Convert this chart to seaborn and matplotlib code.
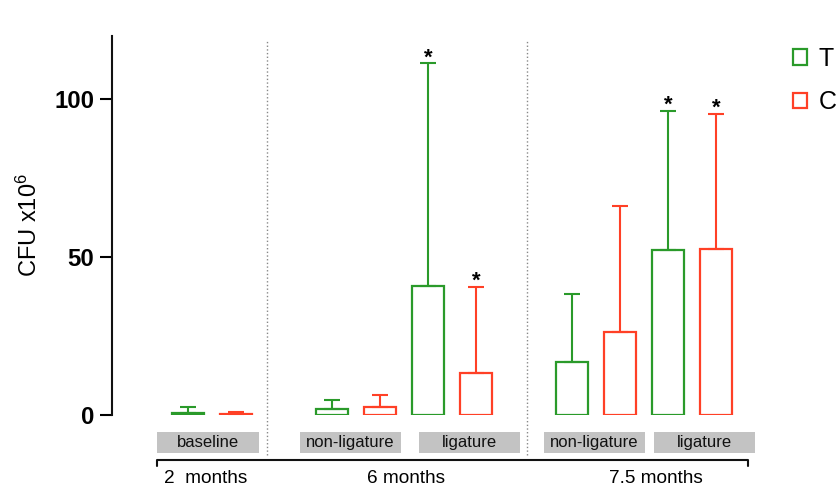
import numpy as np
import pandas as pd
import matplotlib
matplotlib.use('Agg')
import matplotlib.pyplot as plt
from matplotlib.patches import Rectangle
import seaborn as sns

# --- data (CFU x10^6) ---
periods = ['2  months', '6 months', '7.5 months']
sites = [['baseline'], ['non-ligature', 'ligature'], ['non-ligature', 'ligature']]
groups = ['T', 'C']

mean_T = [0.6, 1.9, 40.8, 16.9, 52.4]
mean_C = [0.3, 2.4, 13.4, 26.2, 52.6]
top_T = [2.4, 4.7, 111.3, 38.3, 96.3]      # mean + error (upper whisker)
top_C = [0.9, 6.3, 40.6, 66.1, 95.3]
star_T = [False, False, True, False, True]
star_C = [False, False, True, False, True]

colors = {'T': '#2a9a2a', 'C': '#ff4026'}

# --- build long table; bar slots: T/C side by side, one empty slot between periods ---
rows = []
pos = 0
for p, site_list in enumerate(periods):
    for s in sites[p]:
        i = len(rows) // 2
        rows.append(dict(period=periods[p], site=s, group='T', pos=pos,
                         cfu=mean_T[i], top=top_T[i], star=star_T[i]))
        rows.append(dict(period=periods[p], site=s, group='C', pos=pos + 1,
                         cfu=mean_C[i], top=top_C[i], star=star_C[i]))
        pos += 2
    pos += 1
df = pd.DataFrame(rows)

sns.set_theme(style='ticks')
plt.rcParams['font.family'] = ['Liberation Sans', 'DejaVu Sans']
plt.rcParams['mathtext.fontset'] = 'custom'
plt.rcParams['mathtext.rm'] = 'Liberation Sans'
plt.rcParams['text.color'] = 'black'
plt.rcParams['axes.labelcolor'] = 'black'
plt.rcParams['ytick.color'] = 'black'

fig = plt.figure(figsize=(8.38, 4.99), dpi=100)
ax = fig.add_axes([112/838, 1-415/499, 658/838, 379/499])

sns.barplot(data=df, x='pos', y='cfu', hue='group', hue_order=groups,
            palette=colors, native_scale=True, dodge=False, fill=False,
            width=0.65, linewidth=1.6, errorbar=None, ax=ax)

for g in groups:
    sub = df[df.group == g]
    ax.errorbar(sub.pos, sub.cfu, yerr=[np.zeros(len(sub)), sub.top - sub.cfu],
                fmt='none', ecolor=colors[g], elinewidth=1.5, capsize=6, capthick=1.5)
    for _, r in sub[sub.star].iterrows():
        ax.text(r.pos, r.top - 1.6, '*', ha='center', va='bottom',
                fontsize=16, fontweight='bold', color='black')

ax.set_xlim(-1.583, 12.125)
ax.set_ylim(0, 120)
ax.set_yticks([0, 50, 100])
ax.set_xticks([])
ax.set_xlabel('')
sns.despine(ax=ax, bottom=True)
ax.spines['left'].set_linewidth(1.5)
ax.spines['left'].set_color('#111111')
ax.tick_params(axis='y', length=8.6, width=1.5, pad=4, labelsize=17.3)
for lab in ax.get_yticklabels():
    lab.set_fontweight('bold')
ax.set_ylabel('CFU x10$\\mathregular{^6}$', fontsize=17)
ax.yaxis.set_label_coords(-0.106, 0.5)

# dotted period dividers
for xd in [1.646, 7.06]:
    ax.plot([xd, xd], [-12.7, 118.7], ls=':', lw=1, color='#888888', clip_on=False)

# grey site boxes
box_left = [-0.646, 2.333, 4.813, 7.417, 9.708]
box_w = [2.125, 2.104, 2.104, 2.104, 2.104]
site_names = [s for sl in sites for s in sl]
for bl, bw, name in zip(box_left, box_w, site_names):
    ax.add_patch(Rectangle((bl, -12.03), bw, 6.65, facecolor='#c3c3c3',
                           edgecolor='none', clip_on=False))
    ax.text(bl + bw / 2, -8.7, name, ha='center', va='center', fontsize=12, color='#111111')

# period bracket
ax.plot([-0.646, -0.646, 11.667, 11.667], [-16.1, -14.25, -14.25, -16.1],
        color='#111111', lw=1.5, clip_on=False)
for xt, name in zip([0.375, 4.55, 9.74], periods):
    ax.text(xt, -19.95, name, ha='center', va='center', fontsize=13.7, color='black')

sns.move_legend(ax, loc='upper left', bbox_to_anchor=(793/838, 1-47/499),
                bbox_transform=fig.transFigure, frameon=False, title=None,
                fontsize=18, handlelength=0.57, handleheight=0.57,
                handletextpad=0.45, labelspacing=0.77, borderpad=0, borderaxespad=0)

fig.savefig('out.png', dpi=100)
